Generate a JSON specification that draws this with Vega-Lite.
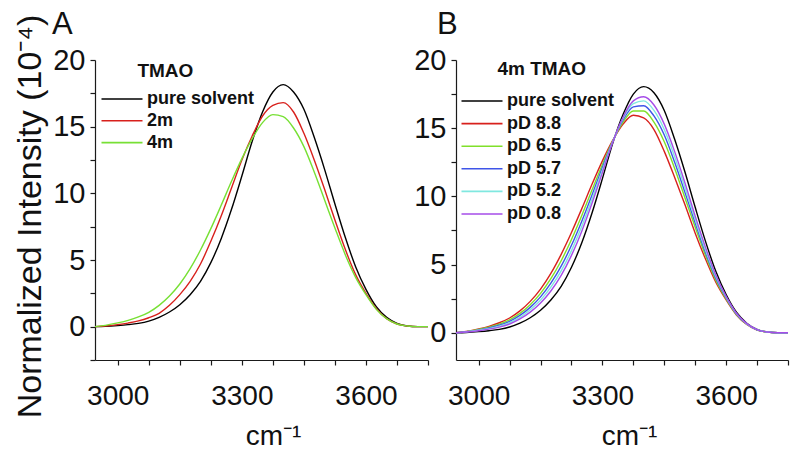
{
  "$schema": "https://vega.github.io/schema/vega-lite/v6.json",
  "background": "white",
  "padding": {"left": 12, "top": 9, "right": 4, "bottom": 4},
  "config": {
    "view": {"stroke": null},
    "font": "Liberation Sans",
    "axis": {"domainColor": "#1a1a1a", "tickColor": "#1a1a1a", "domainWidth": 1.2, "tickWidth": 1.2, "tickSize": 5, "labelColor": "#111111", "titleColor": "#111111", "labelFont": "Liberation Sans", "titleFont": "Liberation Sans", "grid": false, "labelFlush": false, "labelOverlap": false, "titleFontWeight": "normal"},
    "legend": {"padding": 0, "labelFont": "Liberation Sans", "titleFont": "Liberation Sans"}
  },
  "bounds": "flush",
  "spacing": 28,
  "datasets": {
    "d": [
      {"p":"A","s":"pure solvent","x":2945,"y":0},{"p":"A","s":"pure solvent","x":2970,"y":0.02},{"p":"A","s":"pure solvent","x":3000,"y":0.08},{"p":"A","s":"pure solvent","x":3025,"y":0.15},{"p":"A","s":"pure solvent","x":3050,"y":0.25},{"p":"A","s":"pure solvent","x":3075,"y":0.42},{"p":"A","s":"pure solvent","x":3100,"y":0.7},{"p":"A","s":"pure solvent","x":3125,"y":1.1},{"p":"A","s":"pure solvent","x":3150,"y":1.65},{"p":"A","s":"pure solvent","x":3175,"y":2.4},{"p":"A","s":"pure solvent","x":3200,"y":3.4},{"p":"A","s":"pure solvent","x":3225,"y":4.8},{"p":"A","s":"pure solvent","x":3250,"y":6.6},{"p":"A","s":"pure solvent","x":3275,"y":8.8},{"p":"A","s":"pure solvent","x":3300,"y":11.3},{"p":"A","s":"pure solvent","x":3325,"y":13.9},{"p":"A","s":"pure solvent","x":3350,"y":16.1},{"p":"A","s":"pure solvent","x":3375,"y":17.6},{"p":"A","s":"pure solvent","x":3400,"y":18.15},{"p":"A","s":"pure solvent","x":3425,"y":17.6},{"p":"A","s":"pure solvent","x":3450,"y":16.3},{"p":"A","s":"pure solvent","x":3475,"y":14.2},{"p":"A","s":"pure solvent","x":3500,"y":11.8},{"p":"A","s":"pure solvent","x":3525,"y":9.2},{"p":"A","s":"pure solvent","x":3550,"y":6.7},{"p":"A","s":"pure solvent","x":3575,"y":4.5},{"p":"A","s":"pure solvent","x":3600,"y":2.8},{"p":"A","s":"pure solvent","x":3625,"y":1.5},{"p":"A","s":"pure solvent","x":3650,"y":0.7},{"p":"A","s":"pure solvent","x":3675,"y":0.25},{"p":"A","s":"pure solvent","x":3700,"y":0.05},{"p":"A","s":"pure solvent","x":3725,"y":0},{"p":"A","s":"pure solvent","x":3750,"y":0},

      {"p":"A","s":"2m","x":2945,"y":0},{"p":"A","s":"2m","x":2970,"y":0.05},{"p":"A","s":"2m","x":3000,"y":0.15},{"p":"A","s":"2m","x":3025,"y":0.27},{"p":"A","s":"2m","x":3050,"y":0.43},{"p":"A","s":"2m","x":3075,"y":0.67},{"p":"A","s":"2m","x":3100,"y":1.0},{"p":"A","s":"2m","x":3125,"y":1.6},{"p":"A","s":"2m","x":3150,"y":2.4},{"p":"A","s":"2m","x":3175,"y":3.4},{"p":"A","s":"2m","x":3200,"y":4.7},{"p":"A","s":"2m","x":3225,"y":6.4},{"p":"A","s":"2m","x":3250,"y":8.3},{"p":"A","s":"2m","x":3275,"y":10.4},{"p":"A","s":"2m","x":3300,"y":12.5},{"p":"A","s":"2m","x":3325,"y":14.3},{"p":"A","s":"2m","x":3350,"y":15.8},{"p":"A","s":"2m","x":3375,"y":16.6},{"p":"A","s":"2m","x":3400,"y":16.8},{"p":"A","s":"2m","x":3425,"y":16.1},{"p":"A","s":"2m","x":3450,"y":14.5},{"p":"A","s":"2m","x":3475,"y":12.5},{"p":"A","s":"2m","x":3500,"y":10.3},{"p":"A","s":"2m","x":3525,"y":8.0},{"p":"A","s":"2m","x":3550,"y":5.8},{"p":"A","s":"2m","x":3575,"y":3.9},{"p":"A","s":"2m","x":3600,"y":2.5},{"p":"A","s":"2m","x":3625,"y":1.35},{"p":"A","s":"2m","x":3650,"y":0.6},{"p":"A","s":"2m","x":3675,"y":0.2},{"p":"A","s":"2m","x":3700,"y":0.05},{"p":"A","s":"2m","x":3725,"y":0},{"p":"A","s":"2m","x":3750,"y":0},

      {"p":"A","s":"4m","x":2945,"y":0},{"p":"A","s":"4m","x":2970,"y":0.1},{"p":"A","s":"4m","x":3000,"y":0.28},{"p":"A","s":"4m","x":3025,"y":0.47},{"p":"A","s":"4m","x":3050,"y":0.73},{"p":"A","s":"4m","x":3075,"y":1.08},{"p":"A","s":"4m","x":3100,"y":1.6},{"p":"A","s":"4m","x":3125,"y":2.3},{"p":"A","s":"4m","x":3150,"y":3.2},{"p":"A","s":"4m","x":3175,"y":4.35},{"p":"A","s":"4m","x":3200,"y":5.75},{"p":"A","s":"4m","x":3225,"y":7.35},{"p":"A","s":"4m","x":3250,"y":9.1},{"p":"A","s":"4m","x":3275,"y":10.9},{"p":"A","s":"4m","x":3300,"y":12.6},{"p":"A","s":"4m","x":3325,"y":14.1},{"p":"A","s":"4m","x":3350,"y":15.3},{"p":"A","s":"4m","x":3375,"y":15.9},{"p":"A","s":"4m","x":3400,"y":15.75},{"p":"A","s":"4m","x":3425,"y":14.9},{"p":"A","s":"4m","x":3450,"y":13.5},{"p":"A","s":"4m","x":3475,"y":11.6},{"p":"A","s":"4m","x":3500,"y":9.5},{"p":"A","s":"4m","x":3525,"y":7.4},{"p":"A","s":"4m","x":3550,"y":5.4},{"p":"A","s":"4m","x":3575,"y":3.7},{"p":"A","s":"4m","x":3600,"y":2.4},{"p":"A","s":"4m","x":3625,"y":1.3},{"p":"A","s":"4m","x":3650,"y":0.6},{"p":"A","s":"4m","x":3675,"y":0.2},{"p":"A","s":"4m","x":3700,"y":0.05},{"p":"A","s":"4m","x":3725,"y":0},{"p":"A","s":"4m","x":3750,"y":0},

      {"p":"B","s":"pure solvent","x":2945,"y":0},{"p":"B","s":"pure solvent","x":2970,"y":0.02},{"p":"B","s":"pure solvent","x":3000,"y":0.08},{"p":"B","s":"pure solvent","x":3025,"y":0.15},{"p":"B","s":"pure solvent","x":3050,"y":0.25},{"p":"B","s":"pure solvent","x":3075,"y":0.42},{"p":"B","s":"pure solvent","x":3100,"y":0.7},{"p":"B","s":"pure solvent","x":3125,"y":1.1},{"p":"B","s":"pure solvent","x":3150,"y":1.65},{"p":"B","s":"pure solvent","x":3175,"y":2.4},{"p":"B","s":"pure solvent","x":3200,"y":3.4},{"p":"B","s":"pure solvent","x":3225,"y":4.8},{"p":"B","s":"pure solvent","x":3250,"y":6.6},{"p":"B","s":"pure solvent","x":3275,"y":8.8},{"p":"B","s":"pure solvent","x":3300,"y":11.3},{"p":"B","s":"pure solvent","x":3325,"y":13.9},{"p":"B","s":"pure solvent","x":3350,"y":16.0},{"p":"B","s":"pure solvent","x":3375,"y":17.5},{"p":"B","s":"pure solvent","x":3400,"y":18.05},{"p":"B","s":"pure solvent","x":3425,"y":17.6},{"p":"B","s":"pure solvent","x":3450,"y":16.3},{"p":"B","s":"pure solvent","x":3475,"y":14.2},{"p":"B","s":"pure solvent","x":3500,"y":11.8},{"p":"B","s":"pure solvent","x":3525,"y":9.2},{"p":"B","s":"pure solvent","x":3550,"y":6.7},{"p":"B","s":"pure solvent","x":3575,"y":4.5},{"p":"B","s":"pure solvent","x":3600,"y":2.8},{"p":"B","s":"pure solvent","x":3625,"y":1.5},{"p":"B","s":"pure solvent","x":3650,"y":0.7},{"p":"B","s":"pure solvent","x":3675,"y":0.25},{"p":"B","s":"pure solvent","x":3700,"y":0.05},{"p":"B","s":"pure solvent","x":3725,"y":0},{"p":"B","s":"pure solvent","x":3750,"y":0},

      {"p":"B","s":"pD 8.8","x":2945,"y":0},{"p":"B","s":"pD 8.8","x":2970,"y":0.1},{"p":"B","s":"pD 8.8","x":3000,"y":0.28},{"p":"B","s":"pD 8.8","x":3025,"y":0.47},{"p":"B","s":"pD 8.8","x":3050,"y":0.73},{"p":"B","s":"pD 8.8","x":3075,"y":1.08},{"p":"B","s":"pD 8.8","x":3100,"y":1.6},{"p":"B","s":"pD 8.8","x":3125,"y":2.3},{"p":"B","s":"pD 8.8","x":3150,"y":3.2},{"p":"B","s":"pD 8.8","x":3175,"y":4.35},{"p":"B","s":"pD 8.8","x":3200,"y":5.75},{"p":"B","s":"pD 8.8","x":3225,"y":7.35},{"p":"B","s":"pD 8.8","x":3250,"y":9.1},{"p":"B","s":"pD 8.8","x":3275,"y":10.9},{"p":"B","s":"pD 8.8","x":3300,"y":12.6},{"p":"B","s":"pD 8.8","x":3325,"y":14.1},{"p":"B","s":"pD 8.8","x":3350,"y":15.3},{"p":"B","s":"pD 8.8","x":3375,"y":15.95},{"p":"B","s":"pD 8.8","x":3400,"y":15.75},{"p":"B","s":"pD 8.8","x":3425,"y":14.9},{"p":"B","s":"pD 8.8","x":3450,"y":13.3},{"p":"B","s":"pD 8.8","x":3475,"y":11.4},{"p":"B","s":"pD 8.8","x":3500,"y":9.4},{"p":"B","s":"pD 8.8","x":3525,"y":7.3},{"p":"B","s":"pD 8.8","x":3550,"y":5.4},{"p":"B","s":"pD 8.8","x":3575,"y":3.7},{"p":"B","s":"pD 8.8","x":3600,"y":2.4},{"p":"B","s":"pD 8.8","x":3625,"y":1.3},{"p":"B","s":"pD 8.8","x":3650,"y":0.6},{"p":"B","s":"pD 8.8","x":3675,"y":0.2},{"p":"B","s":"pD 8.8","x":3700,"y":0.05},{"p":"B","s":"pD 8.8","x":3725,"y":0},{"p":"B","s":"pD 8.8","x":3750,"y":0},

      {"p":"B","s":"pD 6.5","x":2945,"y":0},{"p":"B","s":"pD 6.5","x":2970,"y":0.08},{"p":"B","s":"pD 6.5","x":3000,"y":0.24},{"p":"B","s":"pD 6.5","x":3025,"y":0.41},{"p":"B","s":"pD 6.5","x":3050,"y":0.63},{"p":"B","s":"pD 6.5","x":3075,"y":0.95},{"p":"B","s":"pD 6.5","x":3100,"y":1.42},{"p":"B","s":"pD 6.5","x":3125,"y":2.06},{"p":"B","s":"pD 6.5","x":3150,"y":2.89},{"p":"B","s":"pD 6.5","x":3175,"y":3.96},{"p":"B","s":"pD 6.5","x":3200,"y":5.28},{"p":"B","s":"pD 6.5","x":3225,"y":6.84},{"p":"B","s":"pD 6.5","x":3250,"y":8.6},{"p":"B","s":"pD 6.5","x":3275,"y":10.48},{"p":"B","s":"pD 6.5","x":3300,"y":12.34},{"p":"B","s":"pD 6.5","x":3325,"y":14.06},{"p":"B","s":"pD 6.5","x":3350,"y":15.44},{"p":"B","s":"pD 6.5","x":3375,"y":16.26},{"p":"B","s":"pD 6.5","x":3400,"y":16.26},{"p":"B","s":"pD 6.5","x":3425,"y":15.44},{"p":"B","s":"pD 6.5","x":3450,"y":14.0},{"p":"B","s":"pD 6.5","x":3475,"y":12.06},{"p":"B","s":"pD 6.5","x":3500,"y":9.9},{"p":"B","s":"pD 6.5","x":3525,"y":7.74},{"p":"B","s":"pD 6.5","x":3550,"y":5.66},{"p":"B","s":"pD 6.5","x":3575,"y":3.86},{"p":"B","s":"pD 6.5","x":3600,"y":2.48},{"p":"B","s":"pD 6.5","x":3625,"y":1.34},{"p":"B","s":"pD 6.5","x":3650,"y":0.62},{"p":"B","s":"pD 6.5","x":3675,"y":0.21},{"p":"B","s":"pD 6.5","x":3700,"y":0.05},{"p":"B","s":"pD 6.5","x":3725,"y":0},{"p":"B","s":"pD 6.5","x":3750,"y":0},

      {"p":"B","s":"pD 5.7","x":2945,"y":0},{"p":"B","s":"pD 5.7","x":2970,"y":0.07},{"p":"B","s":"pD 5.7","x":3000,"y":0.21},{"p":"B","s":"pD 5.7","x":3025,"y":0.35},{"p":"B","s":"pD 5.7","x":3050,"y":0.55},{"p":"B","s":"pD 5.7","x":3075,"y":0.84},{"p":"B","s":"pD 5.7","x":3100,"y":1.27},{"p":"B","s":"pD 5.7","x":3125,"y":1.86},{"p":"B","s":"pD 5.7","x":3150,"y":2.63},{"p":"B","s":"pD 5.7","x":3175,"y":3.63},{"p":"B","s":"pD 5.7","x":3200,"y":4.88},{"p":"B","s":"pD 5.7","x":3225,"y":6.41},{"p":"B","s":"pD 5.7","x":3250,"y":8.18},{"p":"B","s":"pD 5.7","x":3275,"y":10.12},{"p":"B","s":"pD 5.7","x":3300,"y":12.12},{"p":"B","s":"pD 5.7","x":3325,"y":14.03},{"p":"B","s":"pD 5.7","x":3350,"y":15.6},{"p":"B","s":"pD 5.7","x":3375,"y":16.56},{"p":"B","s":"pD 5.7","x":3400,"y":16.65},{"p":"B","s":"pD 5.7","x":3425,"y":15.9},{"p":"B","s":"pD 5.7","x":3450,"y":14.5},{"p":"B","s":"pD 5.7","x":3475,"y":12.52},{"p":"B","s":"pD 5.7","x":3500,"y":10.3},{"p":"B","s":"pD 5.7","x":3525,"y":8.05},{"p":"B","s":"pD 5.7","x":3550,"y":5.88},{"p":"B","s":"pD 5.7","x":3575,"y":4.0},{"p":"B","s":"pD 5.7","x":3600,"y":2.55},{"p":"B","s":"pD 5.7","x":3625,"y":1.37},{"p":"B","s":"pD 5.7","x":3650,"y":0.64},{"p":"B","s":"pD 5.7","x":3675,"y":0.22},{"p":"B","s":"pD 5.7","x":3700,"y":0.05},{"p":"B","s":"pD 5.7","x":3725,"y":0},{"p":"B","s":"pD 5.7","x":3750,"y":0},

      {"p":"B","s":"pD 5.2","x":2945,"y":0},{"p":"B","s":"pD 5.2","x":2970,"y":0.06},{"p":"B","s":"pD 5.2","x":3000,"y":0.18},{"p":"B","s":"pD 5.2","x":3025,"y":0.3},{"p":"B","s":"pD 5.2","x":3050,"y":0.48},{"p":"B","s":"pD 5.2","x":3075,"y":0.74},{"p":"B","s":"pD 5.2","x":3100,"y":1.13},{"p":"B","s":"pD 5.2","x":3125,"y":1.68},{"p":"B","s":"pD 5.2","x":3150,"y":2.39},{"p":"B","s":"pD 5.2","x":3175,"y":3.34},{"p":"B","s":"pD 5.2","x":3200,"y":4.53},{"p":"B","s":"pD 5.2","x":3225,"y":6.02},{"p":"B","s":"pD 5.2","x":3250,"y":7.8},{"p":"B","s":"pD 5.2","x":3275,"y":9.81},{"p":"B","s":"pD 5.2","x":3300,"y":11.92},{"p":"B","s":"pD 5.2","x":3325,"y":14.0},{"p":"B","s":"pD 5.2","x":3350,"y":15.72},{"p":"B","s":"pD 5.2","x":3375,"y":16.8},{"p":"B","s":"pD 5.2","x":3400,"y":17.0},{"p":"B","s":"pD 5.2","x":3425,"y":16.3},{"p":"B","s":"pD 5.2","x":3450,"y":14.9},{"p":"B","s":"pD 5.2","x":3475,"y":12.92},{"p":"B","s":"pD 5.2","x":3500,"y":10.65},{"p":"B","s":"pD 5.2","x":3525,"y":8.3},{"p":"B","s":"pD 5.2","x":3550,"y":6.06},{"p":"B","s":"pD 5.2","x":3575,"y":4.12},{"p":"B","s":"pD 5.2","x":3600,"y":2.61},{"p":"B","s":"pD 5.2","x":3625,"y":1.4},{"p":"B","s":"pD 5.2","x":3650,"y":0.65},{"p":"B","s":"pD 5.2","x":3675,"y":0.23},{"p":"B","s":"pD 5.2","x":3700,"y":0.05},{"p":"B","s":"pD 5.2","x":3725,"y":0},{"p":"B","s":"pD 5.2","x":3750,"y":0},

      {"p":"B","s":"pD 0.8","x":2945,"y":0},{"p":"B","s":"pD 0.8","x":2970,"y":0.05},{"p":"B","s":"pD 0.8","x":3000,"y":0.15},{"p":"B","s":"pD 0.8","x":3025,"y":0.26},{"p":"B","s":"pD 0.8","x":3050,"y":0.41},{"p":"B","s":"pD 0.8","x":3075,"y":0.64},{"p":"B","s":"pD 0.8","x":3100,"y":1.01},{"p":"B","s":"pD 0.8","x":3125,"y":1.51},{"p":"B","s":"pD 0.8","x":3150,"y":2.18},{"p":"B","s":"pD 0.8","x":3175,"y":3.06},{"p":"B","s":"pD 0.8","x":3200,"y":4.2},{"p":"B","s":"pD 0.8","x":3225,"y":5.67},{"p":"B","s":"pD 0.8","x":3250,"y":7.45},{"p":"B","s":"pD 0.8","x":3275,"y":9.51},{"p":"B","s":"pD 0.8","x":3300,"y":11.74},{"p":"B","s":"pD 0.8","x":3325,"y":13.97},{"p":"B","s":"pD 0.8","x":3350,"y":15.8},{"p":"B","s":"pD 0.8","x":3375,"y":17.0},{"p":"B","s":"pD 0.8","x":3400,"y":17.3},{"p":"B","s":"pD 0.8","x":3425,"y":16.7},{"p":"B","s":"pD 0.8","x":3450,"y":15.3},{"p":"B","s":"pD 0.8","x":3475,"y":13.3},{"p":"B","s":"pD 0.8","x":3500,"y":11.0},{"p":"B","s":"pD 0.8","x":3525,"y":8.55},{"p":"B","s":"pD 0.8","x":3550,"y":6.26},{"p":"B","s":"pD 0.8","x":3575,"y":4.23},{"p":"B","s":"pD 0.8","x":3600,"y":2.66},{"p":"B","s":"pD 0.8","x":3625,"y":1.43},{"p":"B","s":"pD 0.8","x":3650,"y":0.67},{"p":"B","s":"pD 0.8","x":3675,"y":0.23},{"p":"B","s":"pD 0.8","x":3700,"y":0.05},{"p":"B","s":"pD 0.8","x":3725,"y":0},{"p":"B","s":"pD 0.8","x":3750,"y":0}
    ]
  },
  "hconcat": [
    {
      "width": 333,
      "height": 300,
      "data": {"name": "d"},
      "transform": [{"filter": "datum.p === 'A'"}],
      "title": {"text": "A", "anchor": "start", "frame": "group", "fontSize": 31, "fontWeight": "normal", "baseline": "alphabetic", "offset": -51, "dx": -43, "font": "Liberation Sans", "color": "#111111"},
      "mark": {"type": "line", "strokeWidth": 1.4, "interpolate": "monotone"},
      "encoding": {
        "x": {"field": "x", "type": "quantitative",
          "scale": {"domain": [2945, 3750], "nice": false, "zero": false},
          "axis": {"values": [3000, 3075, 3150, 3225, 3300, 3375, 3450, 3525, 3600, 3675, 3750], "format": "d", "labelExpr": "datum.value % 300 === 0 ? datum.label : ''", "labelFontSize": 28, "labelPadding": 17, "title": "cm⁻¹", "titleFontSize": 28, "titleX": 178, "titleY": 84, "titleBaseline": "alphabetic"}},
        "y": {"field": "y", "type": "quantitative",
          "scale": {"domain": [-2.5, 20], "nice": false, "zero": false},
          "axis": {"values": [-2.5, 0, 2.5, 5, 7.5, 10, 12.5, 15, 17.5, 20], "format": "~g", "labelExpr": "datum.value % 5 === 0 ? datum.label : ''", "labelFontSize": 29, "labelPadding": 5, "title": "Normalized Intensity (10⁻⁴)", "titleFontSize": 34, "titleX": -65, "titleY": 156, "titleBaseline": "middle", "titleAngle": 270}},
        "color": {"field": "s", "type": "nominal",
          "scale": {"domain": ["pure solvent", "2m", "4m"], "range": ["#000000", "#d8201c", "#77e034"]},
          "legend": {"orient": "none", "legendX": 16, "legendY": 2, "title": "\u200b\u00a0\u00a0\u00a0\u00a0\u00a0TMAO", "titleFontSize": 19, "titleFontWeight": "bold", "titleColor": "#111111", "titlePadding": 7, "labelFontSize": 18, "labelFontWeight": "bold", "labelColor": "#111111", "labelOffset": 14, "symbolType": "M-2.05,0H2.05", "symbolSize": 400, "symbolStrokeWidth": 1.6, "rowPadding": 1.8}}
      }
    },
    {
      "width": 332,
      "height": 300,
      "data": {"name": "d"},
      "transform": [{"filter": "datum.p === 'B'"}],
      "title": {"text": "B", "anchor": "start", "frame": "group", "fontSize": 31, "fontWeight": "normal", "baseline": "alphabetic", "offset": -19, "dx": -19, "font": "Liberation Sans", "color": "#111111"},
      "mark": {"type": "line", "strokeWidth": 1.4, "interpolate": "monotone"},
      "encoding": {
        "x": {"field": "x", "type": "quantitative",
          "scale": {"domain": [2945, 3750], "nice": false, "zero": false},
          "axis": {"values": [3000, 3075, 3150, 3225, 3300, 3375, 3450, 3525, 3600, 3675, 3750], "format": "d", "labelExpr": "datum.value % 300 === 0 ? datum.label : ''", "labelFontSize": 28, "labelPadding": 17, "title": "cm⁻¹", "titleFontSize": 28, "titleX": 173, "titleY": 84, "titleBaseline": "alphabetic"}},
        "y": {"field": "y", "type": "quantitative",
          "scale": {"domain": [-2, 20], "nice": false, "zero": false},
          "axis": {"values": [0, 2.5, 5, 7.5, 10, 12.5, 15, 17.5, 20], "format": "~g", "labelExpr": "datum.value % 5 === 0 ? datum.label : ''", "labelFontSize": 29, "labelPadding": 5, "title": null}},
        "color": {"field": "s", "type": "nominal",
          "scale": {"domain": ["pure solvent", "pD 8.8", "pD 6.5", "pD 5.7", "pD 5.2", "pD 0.8"], "range": ["#000000", "#d8201c", "#80e02a", "#3f55e8", "#80e8e0", "#a64de8"]},
          "legend": {"orient": "none", "legendX": 15, "legendY": 0, "title": "\u200b\u00a0\u00a0\u00a0\u00a0\u00a04m TMAO", "titleFontSize": 19, "titleFontWeight": "bold", "titleColor": "#111111", "titlePadding": 11, "labelFontSize": 18, "labelFontWeight": "bold", "labelColor": "#111111", "labelOffset": 14, "symbolType": "M-2.05,0H2.05", "symbolSize": 400, "symbolStrokeWidth": 1.6, "rowPadding": 2.6}}
      }
    }
  ],
  "resolve": {"scale": {"color": "independent"}}
}
